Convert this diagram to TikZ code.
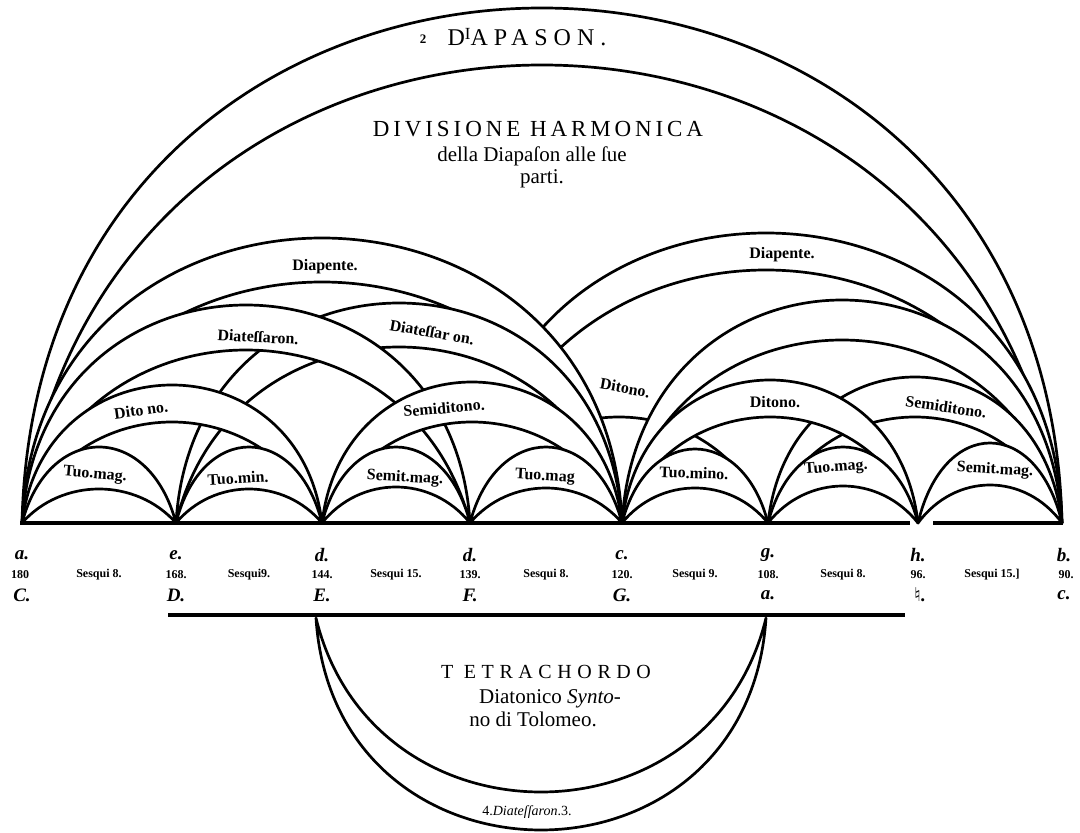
\documentclass[tikz,border=0pt]{standalone}
\usepackage{fontspec}
\setmainfont{Liberation Serif}
\newfontfamily\spacedA[LetterSpace=17]{Liberation Serif}
\newfontfamily\spacedB[LetterSpace=25]{Liberation Serif}
\newfontfamily\spacedC[LetterSpace=28]{Liberation Serif}
\newfontfamily\symf{DejaVu Sans}
\newcommand\myband[6]{%
  \filldraw[bandline] (#1,0) .. controls ({#1+#4*(#2-#1)/2},{4*#3/3}) and ({#2-#4*(#2-#1)/2},{4*#3/3}) .. (#2,0)
    .. controls ({#2-#6*(#2-#1)/2},{4*#5/3}) and ({#1+#6*(#2-#1)/2},{4*#5/3}) .. (#1,0) -- cycle;}
\newcommand\mydband[6]{%
  \fill[white] (#1,0) .. controls ({#1+#4*(#2-#1)/2},{4*#3/3}) and ({#2-#4*(#2-#1)/2},{4*#3/3}) .. (#2,0) -- cycle;
  \myband{#1}{#2}{#3}{#4}{#5}{#6}}
\newcommand\myhband[6]{%
  \fill[white] (#1,0) .. controls ({#1+#4*(#2-#1)/2},{4*#3/3}) and ({#2-#4*(#2-#1)/2},{4*#3/3}) .. (#2,0)
    .. controls ({#2-#6*(#2-#1)/2},{4*#5/3}) and ({#1+#6*(#2-#1)/2},{4*#5/3}) .. (#1,0) -- cycle;
  \draw[bandline] (#2,0) .. controls ({#2-#6*(#2-#1)/2},{4*#5/3}) and ({#1+#6*(#2-#1)/2},{4*#5/3}) .. (#1,0);}
\tikzset{
  bandline/.style={line width=2.7pt, line join=round, draw=black, fill=white},
  lbl/.style={font=\bfseries\fontsize{16}{16}\selectfont, inner sep=0pt},
  note/.style={font=\bfseries\itshape\fontsize{19}{19}\selectfont, inner sep=0pt},
  num/.style={font=\bfseries\fontsize{12}{12}\selectfont, inner sep=0pt},
  title/.style={inner sep=0pt, align=center}
}
\begin{document}
\begin{tikzpicture}[x=1pt,y=1pt]
\useasboundingbox (0,-310) rectangle (1080,523);
% large arcs, back to front
\myband{22}{1062}{515}{0.03}{458}{0.15}
\myband{470}{1062}{290}{0.03}{253}{0.18}
\myhband{470}{768}{145}{0.12}{106}{0.33}
\mydband{22}{622}{285}{0.05}{241}{0.24}
\myband{622}{1062}{223}{0.08}{183}{0.21}
\myband{176}{622}{220}{0.08}{176}{0.25}
\myband{22}{470}{218}{0.08}{173}{0.27}
% thirds
\myband{768}{1062}{146}{0.15}{106}{0.32}
\myband{622}{918}{143}{0.15}{106}{0.33}
\myband{22}{322}{138}{0.15}{101}{0.37}
\myband{322}{622}{141}{0.15}{101}{0.37}
% seconds
\myband{22}{176}{76}{0.35}{34}{0.52}
\myband{176}{322}{76}{0.35}{34}{0.52}
\myband{322}{470}{76}{0.35}{36}{0.52}
\myband{470}{622}{76}{0.35}{35}{0.52}
\myband{622}{768}{74}{0.35}{35}{0.52}
\myband{768}{918}{76}{0.35}{37}{0.52}
\myband{918}{1062}{80}{0.35}{38}{0.52}
% base line
\coordinate (A0) at (20,0); \coordinate (A1) at (910,0);
\coordinate (B0) at (933,0); \coordinate (B1) at (1063,0);
\draw[line width=3.4pt] (A0) -- (A1);
\draw[line width=3.4pt] (B0) -- (B1);
% lower bar and tetrachord
\coordinate (L0) at (168,-92); \coordinate (L1) at (905,-92);
\draw[line width=4.6pt] (L0) -- (L1);
\begin{scope}[shift={(0,-95)}]
\myband{316}{766}{-212}{0.08}{-174}{0.25}
\end{scope}
% top titles
\node[title, font=\fontsize{13}{13}\selectfont\bfseries] (two) at (423,484) {2};
\node[title, font=\spacedB\fontsize{24}{24}\selectfont] (diapason) at (527,486) {D\raisebox{6pt}{\fontsize{17}{17}\selectfont I}APASON.};
\node[title, font=\spacedA\fontsize{23}{23}\selectfont] (divisione) at (538,394) {DIVISIONE HARMONICA};
\node[title, font=\fontsize{21}{21}\selectfont] (della) at (532,367) {della Diapaſon alle ſue};
\node[title, font=\fontsize{21}{21}\selectfont] (parti) at (542,344) {parti.};
% band labels
\node[lbl] (dpL) at (325,256) {Diapente.};
\node[lbl] (dpR) at (782,268) {Diapente.};
\node[lbl, rotate=-3] (dtL) at (258,186) {Diateſſaron.};
\node[lbl, rotate=-10] (dtR) at (432,191) {Diateſſar on.};
\node[lbl, rotate=8] (ditL) at (141,113) {Dito no.};
\node[lbl, rotate=5] (semC) at (444,115) {Semiditono.};
\node[lbl, rotate=-10] (ditC) at (625,135) {Ditono.};
\node[lbl] (ditR) at (775,121) {Ditono.};
\node[lbl, rotate=-8] (semR) at (946,116) {Semiditono.};
\node[lbl, rotate=-5] (s1) at (95,48) {Tuo.mag.};
\node[lbl, rotate=3] (s2) at (238,45) {Tuo.min.};
\node[lbl, rotate=-3] (s3) at (405,45) {Semit.mag.};
\node[lbl, rotate=-3] (s4) at (545,46) {Tuo.mag};
\node[lbl, rotate=-2] (s5) at (694,50) {Tuo.mino.};
\node[lbl, rotate=4] (s6) at (836,55) {Tuo.mag.};
\node[lbl, rotate=-3] (s7) at (995,53) {Semit.mag.};
% note letters
\node[note] (r1a) at (22,-32) {a.};
\node[note] (r1b) at (176,-32) {e.};
\node[note] (r1c) at (322,-32) {d.};
\node[note] (r1d) at (470,-32) {d.};
\node[note] (r1e) at (622,-32) {c.};
\node[note] (r1f) at (768,-32) {g.};
\node[note] (r1g) at (918,-32) {h.};
\node[note] (r1h) at (1064,-32) {b.};
\node[num] (n1) at (20,-52) {180};
\node[num] (q1) at (99,-52) {Sesqui 8.};
\node[num] (n2) at (176,-52) {168.};
\node[num] (q2) at (249,-52) {Sesqui9.};
\node[num] (n3) at (322,-52) {144.};
\node[num] (q3) at (396,-52) {Sesqui 15.};
\node[num] (n4) at (470,-52) {139.};
\node[num] (q4) at (546,-52) {Sesqui 8.};
\node[num] (n5) at (622,-52) {120.};
\node[num] (q5) at (695,-52) {Sesqui 9.};
\node[num] (n6) at (768,-52) {108.};
\node[num] (q6) at (843,-52) {Sesqui 8.};
\node[num] (n7) at (918,-52) {96.};
\node[num] (q7) at (992,-52) {Sesqui 15.]};
\node[num] (n8) at (1066,-52) {90.};
\node[note] (r3a) at (22,-72) {C.};
\node[note] (r3b) at (176,-72) {D.};
\node[note] (r3c) at (322,-72) {E.};
\node[note] (r3d) at (470,-72) {F.};
\node[note] (r3e) at (622,-72) {G.};
\node[note] (r3f) at (768,-72) {a.};
\node[note] (r3g) at (920,-72) {{\symf\fontsize{19}{19}\selectfont ♮}.};
\node[note] (r3h) at (1064,-72) {c.};
% tetrachord texts
\node[title, font=\spacedC\fontsize{20}{20}\selectfont] (tetra) at (546,-149) {T ETRACHORDO};
\node[title, font=\fontsize{21}{21}\selectfont] (diat) at (550,-176) {Diatonico \textit{Synto-}};
\node[title, font=\fontsize{21}{21}\selectfont] (tolo) at (533,-196) {no di Tolomeo.};
\node[title, font=\fontsize{14}{14}\selectfont] (quarta) at (527,-289) {4.\textit{Diateſſaron}.3.};
\end{tikzpicture}
\end{document}
